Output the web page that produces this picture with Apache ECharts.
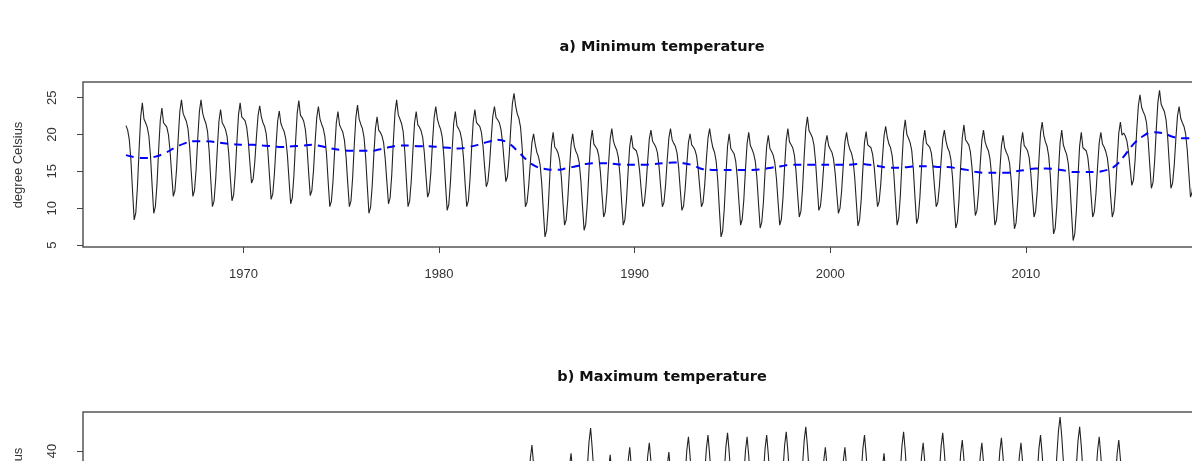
<!DOCTYPE html>
<html>
<head>
<meta charset="utf-8">
<script src="https://cdn.jsdelivr.net/npm/echarts@6/dist/echarts.min.js"></script>
<style>
html,body{margin:0;padding:0;background:#fff;}
#chart{width:1192px;height:461px;}
</style>
</head>
<body>
<div id="chart"></div>
<script>
// ---- data (monthly, Jan..Dec per row) ----
const startYear = 1964;

const tmin = [
/*1964*/21.2,20.6,19.3,16.5,12.3,8.4,9.4,12.9,17.9,22.4,24.3,22.1,
/*1965*/21.6,21.0,19.8,17.1,13.1,9.3,10.2,13.3,17.9,21.9,23.6,21.6,
/*1966*/21.4,21.0,20.0,17.8,14.6,11.6,12.4,15.3,19.5,23.1,24.7,22.9,
/*1967*/22.3,21.8,20.8,18.4,14.9,11.6,12.4,15.3,19.5,23.1,24.7,22.9,
/*1968*/22.1,21.5,20.4,17.7,13.8,10.2,11.0,13.9,18.1,21.8,23.4,21.6,
/*1969*/21.2,20.7,19.7,17.4,14.1,11.0,11.8,14.7,19.0,22.7,24.3,22.4,
/*1970*/22.3,21.9,21.0,19.1,16.1,13.4,14.0,16.3,19.7,22.6,23.9,22.4,
/*1971*/21.6,21.1,20.1,17.8,14.4,11.2,11.9,14.6,18.4,21.8,23.2,21.5,
/*1972*/20.9,20.4,19.4,17.2,13.8,10.6,11.4,14.5,19.0,22.9,24.6,22.6,
/*1973*/22.3,21.8,20.7,18.4,14.9,11.7,12.4,15.1,19.0,22.3,23.8,22.1,
/*1974*/21.4,20.8,19.7,17.3,13.6,10.2,11.0,13.8,17.9,21.6,23.1,21.3,
/*1975*/20.8,20.3,19.2,16.9,13.4,10.2,11.0,14.1,18.5,22.3,24.0,22.1,
/*1976*/21.4,20.8,19.6,16.9,13.0,9.3,10.1,13.0,17.2,20.8,22.4,20.6,
/*1977*/20.3,19.8,18.9,16.7,13.6,10.6,11.4,14.5,19.1,23.0,24.7,22.7,
/*1978*/22.1,21.5,20.4,17.7,13.8,10.2,11.0,13.8,17.9,21.6,23.1,21.3,
/*1979*/21.0,20.5,19.6,17.5,14.4,11.5,12.2,14.9,18.9,22.3,23.8,22.1,
/*1980*/21.3,20.7,19.6,17.0,13.2,9.7,10.5,13.5,17.7,21.5,23.1,21.2,
/*1981*/20.8,20.3,19.2,16.9,13.4,10.2,11.0,13.9,18.1,21.8,23.4,21.6,
/*1982*/21.5,21.1,20.3,18.4,15.5,12.9,13.6,16.0,19.4,22.5,23.8,22.3,
/*1983*/22.0,21.6,20.7,18.9,16.2,13.6,14.3,17.0,20.8,24.2,25.6,23.9,
/*1984*/22.8,22.2,21.0,18.2,14.1,10.2,10.8,13.0,16.1,18.9,20.1,18.7,
/*1985*/17.6,17.0,15.9,13.4,9.6,6.1,7.0,10.1,14.6,18.6,20.3,18.3,
/*1986*/18.0,17.5,16.5,14.3,10.9,7.7,8.4,11.2,15.1,18.6,20.1,18.4,
/*1987*/17.7,17.2,16.2,13.8,10.3,7.0,7.8,10.8,15.2,19.0,20.6,18.7,
/*1988*/18.5,18.0,17.1,14.9,11.8,8.8,9.5,12.2,16.0,19.4,20.8,19.1,
/*1989*/18.4,17.9,16.9,14.5,11.0,7.7,8.4,11.1,15.0,18.4,19.9,18.2,
/*1990*/18.2,17.8,17.0,15.2,12.6,10.2,10.8,13.1,16.4,19.4,20.6,19.1,
/*1991*/18.7,18.3,17.5,15.6,12.8,10.2,10.8,13.2,16.6,19.5,20.8,19.3,
/*1992*/18.8,18.4,17.5,15.5,12.5,9.7,10.3,12.6,15.9,18.9,20.1,18.6,
/*1993*/18.3,17.9,17.1,15.3,12.7,10.2,10.8,13.2,16.6,19.5,20.8,19.3,
/*1994*/18.2,17.6,16.4,13.7,9.8,6.1,6.9,10.0,14.5,18.4,20.1,18.1,
/*1995*/17.9,17.4,16.4,14.1,10.8,7.7,8.5,11.2,15.3,18.8,20.3,18.5,
/*1996*/18.0,17.4,16.4,14.1,10.6,7.3,8.1,10.8,14.9,18.4,19.9,18.1,
/*1997*/17.7,17.2,16.2,14.0,10.8,7.7,8.5,11.4,15.6,19.2,20.8,19.0,
/*1998*/18.6,18.2,17.2,15.0,11.8,8.8,9.6,12.6,17.0,20.8,22.4,20.5,
/*1999*/20.1,19.6,18.6,16.3,12.9,9.7,10.3,12.6,15.8,18.7,19.9,18.5,
/*2000*/18.0,17.6,16.7,14.8,12.0,9.3,10.0,12.4,15.9,19.0,20.3,18.8,
/*2001*/18.0,17.5,16.5,14.2,10.8,7.6,8.4,11.2,15.3,18.9,20.4,18.6,
/*2002*/18.6,18.2,17.3,15.5,12.8,10.2,10.9,13.3,16.7,19.8,21.1,19.6,
/*2003*/18.7,18.2,17.1,14.7,11.1,7.7,8.6,11.7,16.3,20.3,22.0,20.0,
/*2004*/19.5,18.9,17.8,15.2,11.4,7.9,8.7,11.5,15.5,19.1,20.6,18.8,
/*2005*/18.7,18.3,17.5,15.6,12.8,10.2,10.8,13.1,16.4,19.4,20.6,19.1,
/*2006*/18.2,17.7,16.6,14.2,10.6,7.3,8.1,11.2,15.7,19.6,21.3,19.3,
/*2007*/19.1,18.6,17.6,15.4,12.1,9.0,9.7,12.2,16.0,19.2,20.6,19.0,
/*2008*/18.3,17.8,16.7,14.4,10.9,7.7,8.4,11.1,15.0,18.4,19.9,18.2,
/*2009*/17.6,17.1,16.1,13.8,10.4,7.2,8.0,10.9,15.1,18.7,20.3,18.5,
/*2010*/18.2,17.8,16.9,14.8,11.7,8.8,9.6,12.4,16.5,20.2,21.7,19.9,
/*2011*/19.0,18.4,17.1,14.4,10.3,6.5,7.3,10.4,15.0,18.9,20.6,18.6,
/*2012*/17.9,17.3,16.1,13.4,9.4,5.6,6.5,9.7,14.4,18.5,20.3,18.2,
/*2013*/18.2,17.8,16.9,14.8,11.7,8.8,9.5,12.0,15.7,18.9,20.3,18.7,
/*2014*/18.3,17.7,16.8,14.9,11.6,8.8,9.6,12.4,16.5,20.2,21.7,19.9,
/*2015*/20.2,19.8,19.1,17.6,15.3,13.1,13.8,16.5,20.5,23.9,25.4,23.7,
/*2016*/23.1,22.6,21.6,19.3,15.9,12.7,13.5,16.4,20.7,24.4,26.0,24.1,
/*2017*/23.6,23.1,22.0,19.6,16.0,12.7,13.4,15.8,19.4,22.5,23.8,22.2,
/*2018*/21.6,21.1,20.1,17.9,14.6,11.5,12.2,14.9,18.7,22.1,23.5,21.8
];

// smoothed trend of minimum temperature, every half year from 1964.0
const tminTrend = [
17.2,16.9,16.8,17.0,17.5,18.2,18.8,19.1,19.1,19.0,
18.8,18.7,18.6,18.6,18.5,18.4,18.3,18.4,18.5,18.6,
18.4,18.1,17.9,17.8,17.8,17.8,18.0,18.3,18.5,18.5,
18.4,18.4,18.3,18.2,18.1,18.3,18.6,19.0,19.3,18.9,
17.8,16.5,15.6,15.3,15.2,15.4,15.7,16.0,16.1,16.1,
16.0,15.9,15.9,15.9,16.0,16.1,16.2,16.1,15.8,15.3,
15.2,15.2,15.2,15.2,15.2,15.3,15.5,15.7,15.9,15.9,
15.9,15.9,15.9,15.9,15.9,16.0,15.9,15.7,15.5,15.5,
15.6,15.7,15.7,15.6,15.6,15.4,15.2,14.9,14.8,14.8,
14.8,15.0,15.2,15.4,15.4,15.3,15.1,14.9,14.9,14.9,
15.1,15.6,17.0,18.7,19.8,20.3,20.2,19.7,19.5,19.5
];

const tmax = [
/*1964*/26.5,25.5,25.0,24.5,23.5,22.5,24.5,29.5,34.0,36.5,33.0,28.5,
/*1965*/26.0,25.0,24.5,24.0,23.0,22.0,24.0,29.0,33.5,36.0,32.5,28.0,
/*1966*/27.0,26.0,25.5,25.0,24.0,23.0,25.0,30.0,34.5,37.0,33.5,29.0,
/*1967*/26.8,25.7,25.2,24.6,23.4,22.7,24.3,29.6,34.1,36.5,32.8,28.4,
/*1968*/27.1,25.9,25.6,25.1,23.8,23.1,25.2,29.8,34.4,37.0,33.6,29.1,
/*1969*/26.2,25.1,24.4,23.9,23.1,22.1,24.2,28.9,33.6,36.0,32.4,28.2,
/*1970*/26.4,25.6,25.1,24.4,23.6,22.4,24.6,29.4,34.1,36.5,32.9,28.6,
/*1971*/26.9,26.1,25.4,24.9,24.1,22.9,25.1,30.1,34.6,37.0,33.4,28.9,
/*1972*/25.9,25.1,24.6,24.1,22.9,21.9,23.9,29.1,33.4,36.0,32.6,27.9,
/*1973*/27.4,26.6,25.9,25.4,24.6,23.4,25.6,30.4,35.1,37.5,33.9,29.4,
/*1974*/26.1,25.0,24.4,24.0,23.1,22.0,24.1,29.0,33.4,36.0,32.5,28.1,
/*1975*/26.6,25.4,25.0,24.6,23.4,22.6,24.4,29.6,33.9,36.5,33.1,28.4,
/*1976*/25.6,24.4,24.1,23.4,22.6,21.4,23.6,28.4,33.1,35.5,31.9,27.6,
/*1977*/26.9,25.9,25.6,24.9,24.1,23.1,24.9,30.1,34.4,37.0,33.6,28.9,
/*1978*/26.4,25.6,24.9,24.6,23.4,22.4,24.6,29.4,34.1,36.5,32.9,28.4,
/*1979*/27.1,25.9,25.4,25.1,23.9,23.1,24.9,29.9,34.6,37.0,33.4,29.1,
/*1980*/26.1,24.9,24.6,23.9,23.1,21.9,24.1,28.9,33.6,36.0,32.4,28.1,
/*1981*/26.5,25.4,25.1,24.4,23.6,22.6,24.4,29.6,33.9,36.5,33.1,28.4,
/*1982*/27.0,26.1,25.4,25.0,23.9,22.9,25.1,29.9,34.5,37.0,33.4,29.0,
/*1983*/27.6,26.4,26.1,25.4,24.6,23.6,25.4,30.6,34.9,37.5,34.1,29.4,
/*1984*/29.6,28.4,28.1,27.6,26.4,25.6,28.4,33.9,38.6,41.1,37.6,32.9,
/*1985*/28.9,27.6,27.4,26.9,25.6,24.6,26.1,30.9,35.3,37.8,34.4,29.9,
/*1986*/29.4,28.6,28.1,27.4,26.6,25.4,27.6,32.6,37.1,39.6,36.1,31.6,
/*1987*/31.6,30.4,30.1,29.6,28.4,27.6,31.9,37.1,41.6,44.2,40.4,36.1,
/*1988*/30.1,28.9,28.4,27.9,26.9,25.6,27.4,32.4,36.8,39.3,35.9,31.4,
/*1989*/30.4,29.6,28.9,28.6,27.4,26.4,28.6,33.6,38.1,40.7,37.1,32.6,
/*1990*/31.4,30.4,29.9,29.4,28.4,27.4,29.6,34.4,39.0,41.5,38.1,33.4,
/*1991*/30.9,29.6,29.1,28.4,27.6,26.4,27.9,32.9,37.3,39.8,36.4,31.9,
/*1992*/31.1,29.9,29.6,29.1,28.1,27.1,30.6,35.6,40.1,42.6,39.1,34.6,
/*1993*/32.4,31.4,30.9,30.4,29.4,28.4,30.9,35.9,40.4,42.9,39.4,34.9,
/*1994*/32.6,31.6,31.1,30.6,29.6,28.6,31.4,36.3,40.8,43.3,39.8,35.3,
/*1995*/32.9,31.9,31.4,30.9,29.9,28.9,30.6,35.6,40.1,42.6,39.1,34.6,
/*1996*/32.4,31.4,30.9,30.4,29.4,28.4,30.9,35.9,40.4,42.9,39.4,34.9,
/*1997*/32.6,31.6,31.1,30.6,29.6,28.6,31.5,36.5,41.0,43.5,40.0,35.5,
/*1998*/33.1,32.1,31.6,31.1,30.1,29.1,32.4,37.4,41.9,44.4,40.9,36.4,
/*1999*/33.4,32.1,31.4,30.6,29.4,28.1,28.7,33.7,38.2,40.7,37.2,32.7,
/*2000*/31.1,30.1,29.6,29.1,28.1,27.1,28.7,33.7,38.2,40.7,37.2,32.7,
/*2001*/31.4,30.4,29.9,29.4,28.4,27.4,30.9,35.9,40.4,42.9,39.4,34.9,
/*2002*/32.1,30.9,30.1,29.4,28.1,27.1,27.6,32.6,37.1,39.6,36.1,31.6,
/*2003*/31.1,30.1,29.6,29.1,28.1,27.1,31.5,36.5,41.0,43.5,40.0,35.5,
/*2004*/32.6,31.6,30.9,30.1,28.9,27.9,29.5,34.5,39.0,41.5,38.0,33.5,
/*2005*/31.9,30.9,30.4,29.9,28.9,27.9,31.3,36.3,40.8,43.3,39.8,35.3,
/*2006*/32.6,31.6,31.1,30.6,29.6,28.6,30.0,35.0,39.5,42.0,38.5,34.0,
/*2007*/32.1,31.1,30.6,30.1,29.1,28.1,29.5,34.5,39.0,41.5,38.0,33.5,
/*2008*/31.9,30.9,30.4,29.9,28.9,27.9,30.4,35.4,39.9,42.4,38.9,34.4,
/*2009*/32.4,31.4,30.9,30.4,29.4,28.4,29.5,34.5,39.0,41.5,38.0,33.5,
/*2010*/31.9,30.9,30.4,29.9,28.9,27.9,30.9,35.9,40.4,42.9,39.4,34.9,
/*2011*/32.9,31.9,31.4,30.9,29.9,28.9,34.2,39.2,43.7,46.2,42.7,38.2,
/*2012*/34.6,33.6,32.9,32.1,30.9,29.9,32.4,37.4,41.9,44.4,40.9,36.4,
/*2013*/33.9,32.9,32.4,31.9,30.9,29.9,30.6,35.6,40.1,42.6,39.1,34.6,
/*2014*/32.6,31.6,31.1,30.6,29.6,28.6,30.0,35.0,39.5,42.0,38.5,34.0
];

const xTicks = [1970, 1980, 1990, 2000, 2010];
const yTicksMin = [5, 10, 15, 20, 25];
const yTicksMax = [20, 30, 40];

const titleA = 'a) Minimum temperature';
const titleB = 'b) Maximum temperature';
const yName = 'degree Celsius';

// ---- build series data ----
const minData = tmin.map((v, i) => [startYear + i / 12, v]);
const maxData = tmax.map((v, i) => [startYear + i / 12, v]);
const trendData = tminTrend.map((v, i) => [startYear + i * 0.5, v]);

const FONT = "'Liberation Sans', Arial, sans-serif";
const TFONT = "'DejaVu Sans', Verdana, sans-serif";

function xAxisCfg(gi) {
  return {
    type: 'value', gridIndex: gi, min: 1961.8, max: 2021.1,
    axisLine: { show: false },
    splitLine: { show: false },
    axisTick: { show: true, customValues: xTicks, length: 6, lineStyle: { color: '#444', width: 1 } },
    axisLabel: { customValues: xTicks, margin: 21, fontSize: 13, color: '#333', fontFamily: FONT,
                 formatter: v => String(v) }
  };
}
function yAxisCfg(gi, min, max, ticks) {
  return {
    type: 'value', gridIndex: gi, min: min, max: max,
    axisLine: { show: false },
    splitLine: { show: false },
    axisTick: { show: true, customValues: ticks, length: 6, lineStyle: { color: '#444', width: 1 } },
    axisLabel: { customValues: ticks, rotate: 90, margin: 24, fontSize: 13, color: '#333', fontFamily: FONT,
                 hideOverlap: false, showMinLabel: true, showMaxLabel: true, formatter: v => String(v) }
  };
}

const gridBase = { left: 83, width: 1160, height: 165, show: true, borderColor: '#555', borderWidth: 1.5,
                   backgroundColor: 'transparent', containLabel: false, outerBoundsMode: 'none' };

const chart = echarts.init(document.getElementById('chart'), null, { renderer: 'canvas' });
chart.setOption({
  animation: false,
  backgroundColor: '#ffffff',
  grid: [
    Object.assign({ top: 82 }, gridBase),
    Object.assign({ top: 412 }, gridBase)
  ],
  xAxis: [xAxisCfg(0), xAxisCfg(1)],
  yAxis: [yAxisCfg(0, 4.73, 27.13, yTicksMin), yAxisCfg(1, 17.1, 47.1, yTicksMax)],
  series: [
    { type: 'line', xAxisIndex: 0, yAxisIndex: 0, data: minData, showSymbol: false, symbol: 'none',
      lineStyle: { color: '#222', width: 1.1 }, z: 2 },
    { type: 'line', xAxisIndex: 0, yAxisIndex: 0, data: trendData, showSymbol: false, symbol: 'none', smooth: true,
      lineStyle: { color: '#0000ff', width: 2, type: [8, 6] }, z: 3 },
    { type: 'line', xAxisIndex: 1, yAxisIndex: 1, data: maxData, showSymbol: false, symbol: 'none',
      lineStyle: { color: '#222', width: 1.1 }, z: 2 }
  ],
  graphic: [
    { type: 'text', x: 662, y: 47, style: { text: titleA, font: "bold 14.5px " + TFONT, fill: '#111', textAlign: 'center', textVerticalAlign: 'middle' } },
    { type: 'text', x: 662, y: 377, style: { text: titleB, font: "bold 14.5px " + TFONT, fill: '#111', textAlign: 'center', textVerticalAlign: 'middle' } },
    { type: 'text', x: 18, y: 165, rotation: Math.PI / 2, style: { text: yName, font: "13px " + FONT, fill: '#333', textAlign: 'center', textVerticalAlign: 'middle' } },
    { type: 'text', x: 18, y: 491, rotation: Math.PI / 2, style: { text: yName, font: "13px " + FONT, fill: '#333', textAlign: 'center', textVerticalAlign: 'middle' } }
  ]
});
</script>
</body>
</html>
